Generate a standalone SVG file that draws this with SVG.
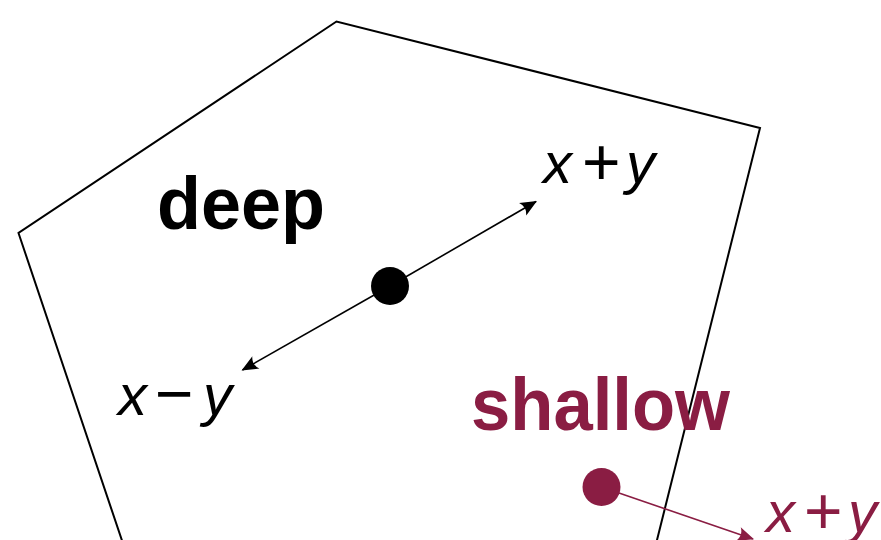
<svg xmlns="http://www.w3.org/2000/svg" width="881" height="540" viewBox="0 0 881 540">
<style>
.frame{fill:none;stroke:#000;stroke-width:2;stroke-linejoin:miter}
.arr{fill:none;stroke:#000;stroke-width:1.6}
.arr.m{stroke:#8a1d43}
.lbl{font-family:"Liberation Sans",Arial,sans-serif;font-weight:bold;font-size:74px}
.math{font-family:"Liberation Sans",Arial,sans-serif;font-size:58px}
.it{font-style:italic}
.op{font-weight:300}
.maroon{fill:#8a1d43}
</style>
<defs>
<marker id="ah" markerUnits="userSpaceOnUse" markerWidth="22" markerHeight="22" viewBox="-17 -9 20 18" refX="0" refY="0" orient="auto">
<path d="M1,0 L-14,-6.5 Q-9.5,0 -14,6.5 Z" fill="#000"/>
</marker>
<marker id="ahm" markerUnits="userSpaceOnUse" markerWidth="22" markerHeight="22" viewBox="-17 -9 20 18" refX="0" refY="0" orient="auto">
<path d="M1,0 L-14,-6.5 Q-9.5,0 -14,6.5 Z" fill="#8a1d43"/>
</marker>
</defs>
<g id="region">
<polygon class="frame" points="142,600 18.5,233 336.5,21.5 760,128 642,600"/>
</g>
<g id="connectors">
<line class="arr" x1="390" y1="286" x2="536" y2="201.5" marker-end="url(#ah)"/>
<line class="arr" x1="390" y1="286" x2="242.5" y2="370" marker-end="url(#ah)"/>
<line class="arr m" x1="601.5" y1="487" x2="753" y2="539" marker-end="url(#ahm)"/>
</g>
<g id="deep-point">
<circle cx="390" cy="286" r="19" fill="#000"/>
<text class="lbl" x="157" y="229" textLength="168" lengthAdjust="spacingAndGlyphs">deep</text>
</g>
<g id="deep-plus">
<text class="math"><tspan class="it" x="543" y="183">x</tspan><tspan class="op" x="582" y="185" font-size="66">+</tspan><tspan class="it" x="626" y="183">y</tspan></text>
</g>
<g id="deep-minus">
<text class="math"><tspan class="it" x="118" y="415">x</tspan><tspan class="op" x="155" y="416" font-size="66">−</tspan><tspan class="it" x="203" y="415">y</tspan></text>
</g>
<g id="shallow-point">
<circle cx="601.5" cy="487" r="19" class="maroon"/>
<text class="lbl maroon" x="471" y="430" textLength="259" lengthAdjust="spacingAndGlyphs">shallow</text>
</g>
<g id="shallow-plus">
<text class="math maroon"><tspan class="it" x="766" y="532">x</tspan><tspan class="op" x="804" y="534" font-size="66">+</tspan><tspan class="it" x="848" y="532">y</tspan></text>
</g>
</svg>
